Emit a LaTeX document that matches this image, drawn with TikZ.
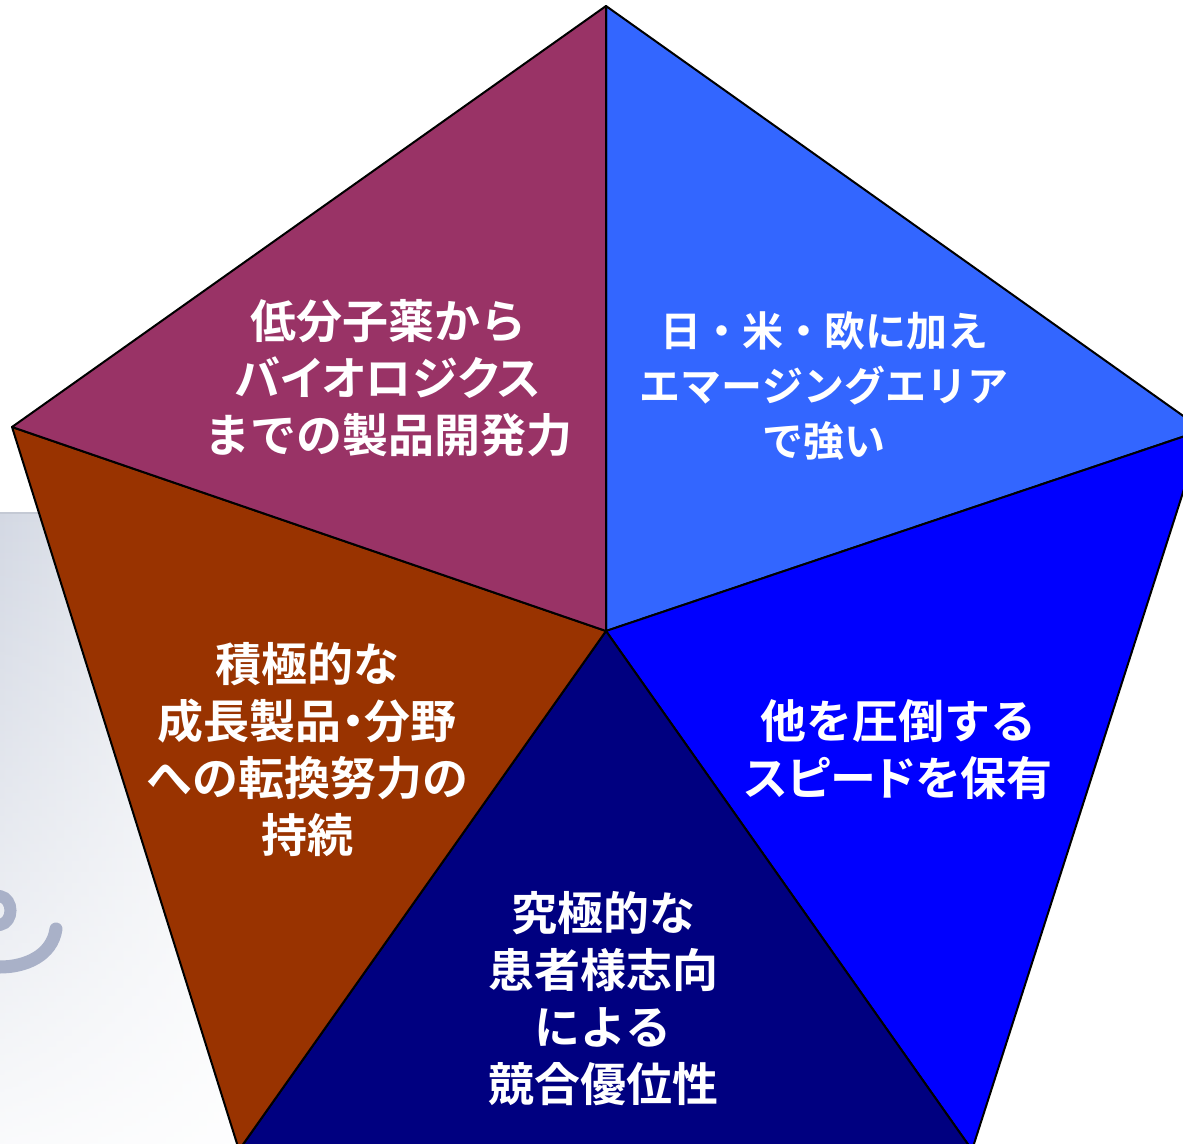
\documentclass[tikz,border=0pt]{standalone}
\usepackage{fontspec}
\usetikzlibrary{fadings}
\newfontfamily\jpfont{Noto Sans CJK JP}[BoldFont={Noto Sans CJK JP Bold}]
\newfontfamily\jpprop{Noto Sans CJK JP}[BoldFont={Noto Sans CJK JP Bold}, RawFeature=+palt]
\definecolor{plum}{HTML}{993366}
\definecolor{skyblue}{HTML}{3366FF}
\definecolor{pureblue}{HTML}{0000FF}
\definecolor{navyblue}{HTML}{000080}
\definecolor{rust}{HTML}{993300}
\definecolor{bggray}{HTML}{D3D8E3}
\definecolor{bgline}{HTML}{C4C9D4}
\definecolor{inkgray}{HTML}{A9B1C8}
\begin{document}
\begin{tikzpicture}[x=0.5pt, y=-0.5pt,
    piece/.style={draw=black, line width=1pt, line join=round},
    slicetext/.style={text=white, align=center, inner sep=0pt,
      font=\jpfont\bfseries\fontsize{23}{28.5}\selectfont}]
    \useasboundingbox (0,0) rectangle (1183,1144);
    \clip (0,0) rectangle (1183,1144);
    % faded backdrop on the left
    \shade[left color=bggray, right color=white, path fading=south] (0,513) rectangle (330,1230);
    \draw[bgline, line width=0.8pt] (0,513) -- (60,513);
    \draw[inkgray, line width=6pt, line cap=round] (0,896) .. controls (14,899) and (14,922) .. (0,925);
    \draw[inkgray, line width=6.5pt, line cap=round] (0,967) .. controls (25,967) and (52,956) .. (56,929);
    % pentagon cut in five
    \coordinate (c) at (606,631);
    \coordinate (p1) at (606,6);
    \coordinate (p2) at (1203,430);
    \coordinate (p3) at (972,1150);
    \coordinate (p4) at (239,1150);
    \coordinate (p5) at (12,427);
    \foreach \a/\b/\col in {p1/p2/skyblue, p2/p3/pureblue, p3/p4/navyblue, p4/p5/rust, p5/p1/plum}
        \filldraw[piece, fill=\col] (c)--(\a)--(\b)--cycle;
    \node[slicetext] (dev) at (388,378) {低分子薬から\\{\jpprop\bfseries バイオロジクス}\\までの製品開発力};
    \node[slicetext, font=\jpfont\bfseries\fontsize{20.5}{27.5}\selectfont] (area) at (824,386) {日・米・欧に加え\\エマージングエリア\\で強い};
    \node[slicetext] (speed) at (898,750) {他を圧倒する\\{\jpprop\bfseries スピードを保有}};
    \node[slicetext] (patient) at (603,999) {究極的な\\患者様志向\\による\\競合優位性};
    \node[slicetext] (shift) at (307,750) {積極的な\\成長製品{\jpprop\bfseries ・}分野\\への転換努力の\\持続};
\end{tikzpicture}
\end{document}
